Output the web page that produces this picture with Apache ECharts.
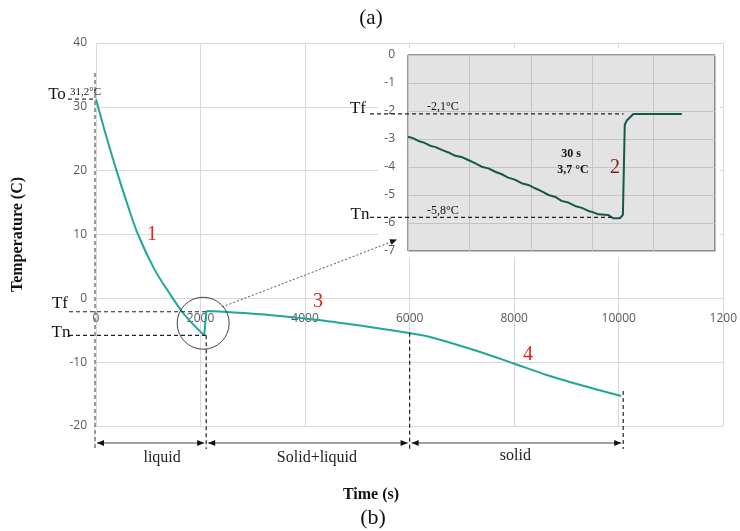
<!DOCTYPE html>
<html>
<head>
<meta charset="utf-8">
<script src="https://cdn.jsdelivr.net/npm/echarts@6/dist/echarts.min.js"></script>
<style>
  html, body { margin: 0; padding: 0; background: #fff; }
  #chart { width: 740px; height: 531px; }
</style>
</head>
<body>
<div id="chart"></div>
<script>
  // main cooling curve (time in s, temperature in C)
  const timeSec = [0, 40, 210, 393, 590, 804, 1121, 1406, 1647, 1850, 2070, 2100, 2112, 2418, 3305, 4255, 5204, 5964, 6407, 7231, 7991, 8623, 9320, 10047]
  const tempC = [31.2, 30, 25, 20, 15, 10, 4.5, 0.8, -2.1, -4.0, -5.8, -5.6, -2.0, -2.1, -2.6, -3.4, -4.45, -5.4, -6.1, -8.1, -10.2, -12.0, -13.7, -15.3]
  // index ranges: supercooling part, nucleation jump, freezing + solid part
  const stageCuts = [0, 10, 12, 23]

  // zoomed inset around nucleation (x in inset grid units)
  const insetX = [0.00, 0.08, 0.17, 0.26, 0.36, 0.45, 0.55, 0.66, 0.77, 0.87, 0.98, 1.09, 1.20, 1.31, 1.42, 1.52, 1.63, 1.74, 1.85, 1.96, 2.07, 2.18, 2.29, 2.40, 2.50, 2.61, 2.72, 2.83, 2.94, 3.02, 3.10, 3.26, 3.34, 3.45, 3.50, 3.53, 3.56, 3.67, 4.46]
  const insetY = [-2.92, -2.97, -3.07, -3.13, -3.24, -3.29, -3.39, -3.48, -3.60, -3.64, -3.75, -3.86, -3.99, -4.05, -4.17, -4.25, -4.38, -4.45, -4.58, -4.64, -4.76, -4.87, -5.00, -5.07, -5.21, -5.27, -5.39, -5.46, -5.57, -5.62, -5.69, -5.71, -5.83, -5.83, -5.71, -2.50, -2.35, -2.11, -2.11]

  // key points
  const T0 = 31.2
  const Tf = -2.1
  const Tn = -5.8
  const tNucl = 2070
  const tEndMushy = 6000
  const tEnd = 10047
  const phases = ['liquid', 'Solid+liquid', 'solid']

  const yMin = -20
  const yMax = 40
  const gridTop = 43
  const gridBottom = 105
  const tickFont = { color: '#595959', fontSize: 12, fontFamily: 'Open Sans' }
  const serif = 'Liberation Serif'

  const chart = echarts.init(document.getElementById('chart'))
  // move time axis up to the zero line
  const plotH = 531 - gridTop - gridBottom
  const zeroOffset = -plotH * (0 - yMin) / (yMax - yMin)

  const stagePart = (a, b) => timeSec.slice(a, b + 1).map((t, i) => [t, tempC[a + i]])
  const mainLine = (a, b, smooth) => ({
    type: 'line', xAxisIndex: 0, yAxisIndex: 0, z: 3,
    data: stagePart(a, b),
    smooth: smooth,
    showSymbol: false,
    lineStyle: { color: '#1fa898', width: 2 }
  })

  chart.setOption({
    animation: false,
    backgroundColor: '#fff',
    grid: [
      { left: 96, right: 12, top: gridTop, bottom: gridBottom },
      { left: 408, top: 55, width: 307, height: 196, show: true, backgroundColor: '#e3e3e3', borderColor: '#333', borderWidth: 1, z: 2 }
    ],
    xAxis: [
      {
        type: 'value', gridIndex: 0, min: 0, max: 12000, interval: 2000,
        position: 'bottom', offset: zeroOffset,
        axisLine: { show: false, onZero: false },
        axisTick: { show: false },
        axisLabel: Object.assign({ margin: 14, formatter: v => v === 12000 ? '1200' : String(v) }, tickFont),
        splitLine: { lineStyle: { color: '#d9d9d9' } }
      },
      {
        type: 'value', gridIndex: 1, min: 0, max: 5, interval: 1, z: 3,
        axisLine: { show: false }, axisTick: { show: false }, axisLabel: { show: false },
        splitLine: { lineStyle: { color: '#c4c4c4' } }
      }
    ],
    yAxis: [
      {
        type: 'value', gridIndex: 0, min: yMin, max: yMax, interval: 10,
        name: 'Temperature (C)', nameLocation: 'middle', nameRotate: 90, nameGap: 70,
        nameTextStyle: { fontFamily: serif, fontWeight: 'bold', fontSize: 16, color: '#111' },
        axisLine: { show: false }, axisTick: { show: false },
        axisLabel: Object.assign({ margin: 9 }, tickFont),
        splitLine: { lineStyle: { color: '#d9d9d9' } }
      },
      {
        type: 'value', gridIndex: 1, min: -7, max: 0, interval: 1, z: 3,
        axisLine: { show: false }, axisTick: { show: false },
        axisLabel: Object.assign({ margin: 13 }, tickFont),
        splitLine: { lineStyle: { color: '#c4c4c4' } }
      }
    ],
    series: [
      mainLine(stageCuts[0], stageCuts[1], 0.35),
      mainLine(stageCuts[1], stageCuts[2], false),
      mainLine(stageCuts[2], stageCuts[3], 0.3),
      {
        type: 'line', xAxisIndex: 1, yAxisIndex: 1, z: 4,
        data: insetX.map((u, i) => [u, insetY[i]]),
        showSymbol: false,
        lineStyle: { color: '#13584d', width: 2 }
      }
    ]
  })

  // annotations, placed through the chart scales
  const P = (t, v) => chart.convertToPixel({ xAxisIndex: 0, yAxisIndex: 0 }, [t, v])
  const Q = (u, v) => chart.convertToPixel({ xAxisIndex: 1, yAxisIndex: 1 }, [u, v])

  function dash (x1, y1, x2, y2, color, w) {
    return { type: 'line', z: 10, shape: { x1, y1, x2, y2 }, style: { stroke: color || '#222', lineWidth: w || 1.2, lineDash: [4, 3] } }
  }
  function txt (x, y, text, font, fill, align) {
    return {
      type: 'text', z: 10, x, y,
      style: { text, font, fill: fill || '#111', align: align || 'center', verticalAlign: 'middle', textAlign: align || 'center', textVerticalAlign: 'middle' }
    }
  }
  function arrow (x1, x2, y) {
    return [
      { type: 'line', z: 10, shape: { x1, y1: y, x2, y2: y }, style: { stroke: '#444', lineWidth: 1 } },
      { type: 'polygon', z: 10, shape: { points: [[x1, y], [x1 + 7, y - 3], [x1 + 7, y + 3]] }, style: { fill: '#111' } },
      { type: 'polygon', z: 10, shape: { points: [[x2, y], [x2 - 7, y - 3], [x2 - 7, y + 3]] }, style: { fill: '#111' } }
    ]
  }

  const p0 = P(0, T0)
  const pTf = P(tNucl, Tf)
  const pTn = P(tNucl, Tn)
  const pMushy = P(tEndMushy, -5.4)
  const pEnd = P(tEnd, -14.5)
  const pTop = P(0, 35.3)
  const yBottom = 449
  const yArrow = 443

  const qTf = Q(3.51, Tf)
  const qTn = Q(3.34, Tn)
  const circ = P(2050, -3.9)

  const g = [
    // white patch under inset
    { type: 'rect', z: 1, shape: { x: 378, y: 48, width: 342, height: 209 }, style: { fill: '#fff' } },
    // main chart guide lines
    dash(pTop[0] - 1, pTop[1], pTop[0] - 1, yBottom, '#777', 1.5),
    dash(68, p0[1], p0[0], p0[1], '#333', 1.2),
    dash(69, pTf[1], pTf[0] + 2, pTf[1]),
    dash(69, pTn[1], pTn[0] + 2, pTn[1]),
    dash(pTn[0] + 2, pTn[1], pTn[0] + 2, yBottom),
    dash(pMushy[0], pMushy[1], pMushy[0], yBottom),
    dash(pEnd[0] + 2, pEnd[1], pEnd[0] + 2, yBottom),
    ...arrow(p0[0] + 1, pTn[0], yArrow),
    ...arrow(pTn[0] + 4, pMushy[0] - 2, yArrow),
    ...arrow(pMushy[0] + 2, pEnd[0], yArrow),
    txt((p0[0] + pTn[0]) / 2 + 12, 458, phases[0], '16px ' + serif, '#222'),
    txt((pTn[0] + pMushy[0]) / 2 + 10, 458, phases[1], '16px ' + serif, '#222'),
    txt((pMushy[0] + pEnd[0]) / 2, 456, phases[2], '16px ' + serif, '#222'),
    txt(57, p0[1] - 5, 'To', '17px ' + serif),
    txt(70, p0[1] - 7, '31,2°C', '11px ' + serif, '#222', 'left'),
    txt(60, pTf[1] - 8, 'Tf', '17px ' + serif),
    txt(61, pTn[1] - 3, 'Tn', '17px ' + serif),
    // nucleation circle and pointer to inset
    { type: 'circle', z: 10, shape: { cx: circ[0], cy: circ[1], r: 26 }, style: { fill: 'none', stroke: '#444', lineWidth: 1 } },
    { type: 'line', z: 10, shape: { x1: 222, y1: 307, x2: 391, y2: 242 }, style: { stroke: '#555', lineWidth: 1, lineDash: [2, 2] } },
    { type: 'polygon', z: 10, shape: { points: [[397, 239.5], [391.6, 244.8], [389.4, 239.2]] }, style: { fill: '#111' } },
    // curve stage numbers
    txt(152, 235, '1', '20px ' + serif, '#e32219'),
    txt(318, 302, '3', '20px ' + serif, '#e32219'),
    txt(528, 355, '4', '20px ' + serif, '#e32219'),
    // inset guide lines and labels
    dash(370, qTf[1], qTf[0], qTf[1]),
    dash(370, qTn[1], qTn[0], qTn[1]),
    txt(358, qTf[1] - 5, 'Tf', '17px ' + serif),
    txt(360, qTn[1] - 3, 'Tn', '17px ' + serif),
    txt(427, qTf[1] - 7, '-2,1°C', '12px ' + serif, '#111', 'left'),
    txt(427, qTn[1] - 7, '-5,8°C', '12px ' + serif, '#111', 'left'),
    txt(571, 154, '30 s', 'bold 12px ' + serif),
    txt(573, 170, '3,7 °C', 'bold 12px ' + serif),
    txt(615, 168, '2', '20px ' + serif, '#8b1414'),
    // titles
    txt(371, 18, '(a)', '21px ' + serif),
    txt(371, 495, 'Time (s)', 'bold 16px ' + serif),
    txt(373, 518, '(b)', '22px ' + serif)
  ]

  chart.setOption({ graphic: g })
</script>
</body>
</html>
